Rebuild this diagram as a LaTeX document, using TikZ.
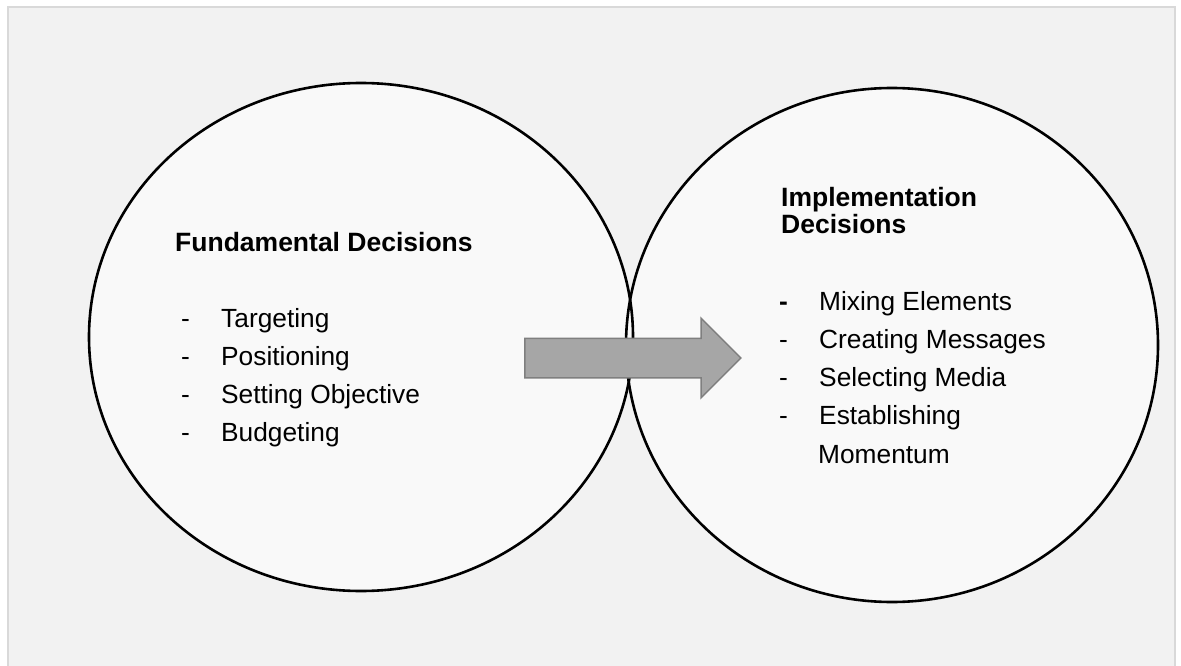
\documentclass[tikz,border=0pt]{standalone}
\usepackage{fontspec}
\setmainfont{Liberation Sans}
\usetikzlibrary{shapes.geometric,shapes.arrows}

\definecolor{panelgray}{HTML}{F2F2F2}
\definecolor{framegray}{HTML}{D9D9D9}
\definecolor{bubblegray}{HTML}{F9F9F9}
\definecolor{arrowfill}{HTML}{A6A6A6}
\definecolor{arrowline}{HTML}{7F7F7F}

\tikzset{
  bubble/.style={ellipse, inner sep=0pt, fill=bubblegray},
  ring/.style={ellipse, inner sep=0pt, draw=black, line width=2.6pt},
  heading/.style={anchor=base west, inner sep=0pt, font=\fontsize{26.5}{26.5}\selectfont\bfseries},
  entry/.style={anchor=base west, inner sep=0pt, font=\fontsize{26.3}{26.3}\selectfont},
}

\begin{document}
\begin{tikzpicture}[x=1pt,y=-1pt]
    \useasboundingbox (0,0) rectangle (1181,666);
    \clip (0,0) rectangle (1181,666);

    % Panel
    \draw[fill=panelgray, draw=framegray, line width=2pt] (8.3,7.2) rectangle (1174.5,700);

    % Bubbles
    \node[bubble, minimum width=544pt, minimum height=508pt] (fund) at (361,337) {};
    \node[bubble, minimum width=532pt, minimum height=514pt] (impl) at (892,345) {};
    \node[ring, minimum width=544pt, minimum height=508pt] (fund-ring) at (fund) {};
    \node[ring, minimum width=532pt, minimum height=514pt] (impl-ring) at (impl) {};

    % Arrow
    \node[single arrow, fill=arrowfill, draw=arrowline, line width=1.5pt,
          inner xsep=0pt, inner ysep=19pt, single arrow head extend=20pt,
          minimum height=216pt] (flow) at (623,358) {};

    % Fundamental decisions
    \node[heading] (fund-head) at (175,251) {Fundamental Decisions};
    \foreach \entry [count=\i] in {Targeting,Positioning,Setting Objective,Budgeting} {
        \node[entry] (fund-dash-\i) at (181,{327+38.2*(\i-1)}) {-};
        \node[entry] (fund-\i) at (221,{327+38.2*(\i-1)}) {\entry};
    }

    % Implementation decisions
    \node[heading] (impl-head) at (781,207) {Implementation};
    \node[heading] (impl-head2) at (781,233) {Decisions};
    \foreach \tick/\entry [count=\i] in {{\textbf{-}}/Mixing Elements,-/Creating Messages,-/Selecting Media,-/Establishing} {
        \node[entry] (impl-dash-\i) at (779,{310+38.3*(\i-1)}) {\tick};
        \node[entry] (impl-\i) at (819,{310+38.3*(\i-1)}) {\entry};
    }
    \node[entry] (impl-5) at (818,463) {Momentum};
\end{tikzpicture}
\end{document}
